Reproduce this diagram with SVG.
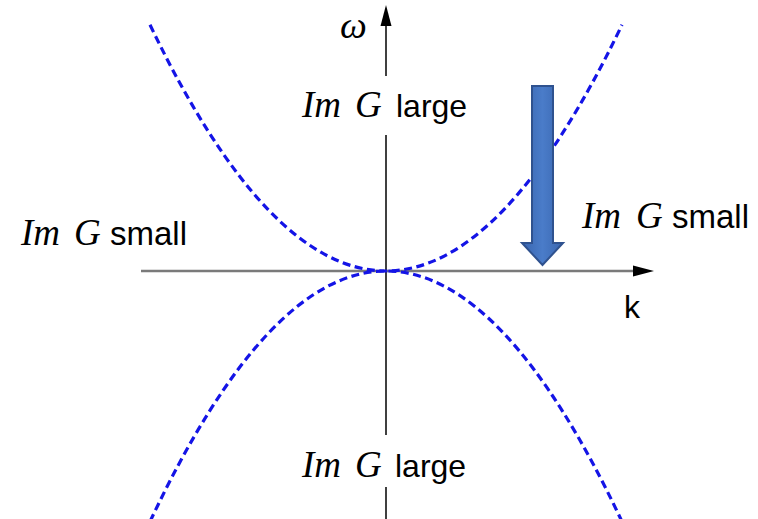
<svg xmlns="http://www.w3.org/2000/svg" width="758" height="519" viewBox="0 0 758 519">
  <defs>
    <style>
      .it { font-family: "Liberation Serif", "DejaVu Serif", serif; font-style: italic; font-size: 37px; fill: #000; }
      .om { font-family: "Liberation Serif", "DejaVu Serif", serif; font-style: italic; font-size: 38px; fill: #000; }
      .sn { font-family: "Liberation Sans", Arial, sans-serif; font-size: 32px; fill: #000; }
      .sm { font-family: "Liberation Sans", Arial, sans-serif; font-size: 33px; fill: #000; }
      .curve { fill: none; stroke: #1414e6; stroke-width: 3.2; stroke-dasharray: 8 4.5; }
      .vaxis { stroke: #000; stroke-width: 1.5; fill: none; }
      .haxis { stroke: #7a7a7a; stroke-width: 2.6; fill: none; }
    </style>
    <linearGradient id="blockGrad" x1="0" y1="0" x2="1" y2="0">
      <stop offset="0" stop-color="#3a66b0"/>
      <stop offset="0.5" stop-color="#4a7cc9"/>
      <stop offset="1" stop-color="#3a66b0"/>
    </linearGradient>
  </defs>

  <g id="connectors">
    <g id="k-axis">
      <line class="haxis" x1="141" y1="271" x2="636" y2="271"/>
      <polygon points="654,271 633,265.5 633,276.5" fill="#000"/>
    </g>
    <g id="omega-axis">
      <line class="vaxis" x1="386" y1="24" x2="386" y2="76"/>
      <line class="vaxis" x1="386" y1="135" x2="386" y2="435"/>
      <line class="vaxis" x1="386" y1="487" x2="386" y2="519"/>
      <polygon points="386,5 380.5,26 391.5,26" fill="#000"/>
    </g>
    <g id="dispersion-curves">
      <path class="curve" d="M150,24.8 Q386,517.2 622,24.8"/>
      <path class="curve" d="M150,521.6 Q386,20.4 622,521.6"/>
    </g>
    <g id="block-arrow">
      <polygon points="532,86 553,86 553,243 563,243 542.5,265 522,243 532,243" fill="url(#blockGrad)" stroke="#2f528f" stroke-width="2" stroke-linejoin="miter"/>
    </g>
  </g>

  <g id="label-omega">
    <text class="om" x="340" y="38">ω</text>
  </g>
  <g id="label-k">
    <text class="sn" x="624" y="318">k</text>
  </g>
  <g id="label-top-large">
    <text class="it" x="302" y="117">Im</text>
    <text class="it" x="355" y="117">G</text>
    <text class="sn" x="396" y="117">large</text>
  </g>
  <g id="label-bottom-large">
    <text class="it" x="302" y="477">Im</text>
    <text class="it" x="355" y="477">G</text>
    <text class="sn" x="395" y="477">large</text>
  </g>
  <g id="label-left-small">
    <text class="it" x="21" y="245">Im</text>
    <text class="it" x="74" y="245">G</text>
    <text class="sm" x="110" y="245">small</text>
  </g>
  <g id="label-right-small">
    <text class="it" x="582" y="228">Im</text>
    <text class="it" x="636" y="228">G</text>
    <text class="sm" x="672" y="228">small</text>
  </g>
</svg>
